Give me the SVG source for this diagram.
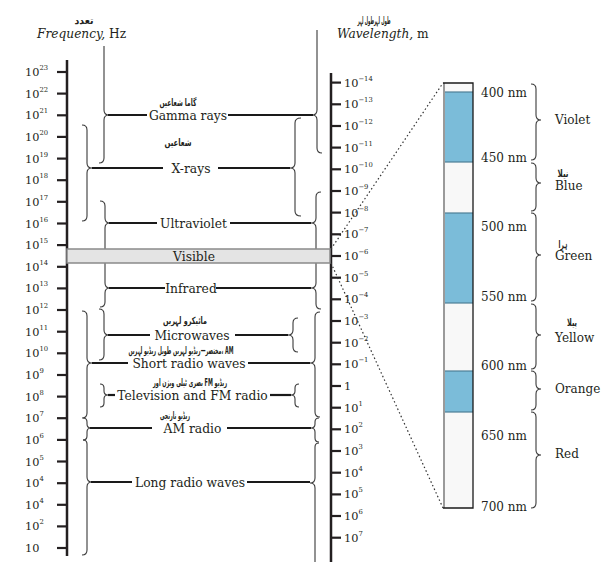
<svg xmlns="http://www.w3.org/2000/svg" width="610" height="570" viewBox="0 0 610 570">
<style>
.ax{stroke:#231f20;stroke-width:2.5;fill:none}
.tk{stroke:#231f20;stroke-width:2.2}
.ln{stroke:#1a1a1a;stroke-width:2.2}
.br{stroke:#3a3a3a;stroke-width:1.1;fill:none}
.lbl{font-family:"DejaVu Serif","Liberation Serif",serif;font-size:12.3px;fill:#231f20;text-anchor:middle}
.tl{font-family:"DejaVu Serif","Liberation Serif",serif;font-size:11.3px;fill:#231f20}
.sup{font-size:6.8px}
.nm{font-family:"DejaVu Serif","Liberation Serif",serif;font-size:12px;fill:#231f20}
.ur{font-family:"DejaVu Sans",sans-serif;font-size:10px;font-weight:bold;fill:#231f20;text-anchor:middle}
.hd{font-family:"DejaVu Serif","Liberation Serif",serif;font-size:12.2px;fill:#231f20}
.dot{stroke:#333;stroke-width:1.2;stroke-dasharray:1.5 2.5;fill:none}
.blue{fill:#7bbcd9}
.wht{fill:#f8f8f8}
</style>

<g id="headers">
<text class="ur" x="84" y="24" font-size="13" textLength="19" lengthAdjust="spacingAndGlyphs">تعدد</text>
<text class="hd" x="37" y="38"><tspan font-style="italic">Frequency,</tspan> Hz</text>
<text class="ur" x="374" y="24" font-size="12.5" textLength="33" lengthAdjust="spacingAndGlyphs">طول لہرطول لہر</text>
<text class="hd" x="337" y="38"><tspan font-style="italic">Wavelength,</tspan> m</text>
</g>

<g id="frequency-axis">
<line class="ax" x1="67" y1="60" x2="67" y2="556"/>
<g class="tk">
<line x1="57" y1="72" x2="67" y2="72"/><line x1="57" y1="93.6" x2="67" y2="93.6"/><line x1="57" y1="115.3" x2="67" y2="115.3"/><line x1="57" y1="136.9" x2="67" y2="136.9"/><line x1="57" y1="158.6" x2="67" y2="158.6"/><line x1="57" y1="180.2" x2="67" y2="180.2"/><line x1="57" y1="201.8" x2="67" y2="201.8"/><line x1="57" y1="223.5" x2="67" y2="223.5"/><line x1="57" y1="245.1" x2="67" y2="245.1"/><line x1="57" y1="266.8" x2="67" y2="266.8"/><line x1="57" y1="288.4" x2="67" y2="288.4"/><line x1="57" y1="310" x2="67" y2="310"/><line x1="57" y1="331.7" x2="67" y2="331.7"/><line x1="57" y1="353.3" x2="67" y2="353.3"/><line x1="57" y1="375" x2="67" y2="375"/><line x1="57" y1="396.6" x2="67" y2="396.6"/><line x1="57" y1="418.2" x2="67" y2="418.2"/><line x1="57" y1="439.9" x2="67" y2="439.9"/><line x1="57" y1="461.5" x2="67" y2="461.5"/><line x1="57" y1="483.2" x2="67" y2="483.2"/><line x1="57" y1="504.8" x2="67" y2="504.8"/><line x1="57" y1="526.4" x2="67" y2="526.4"/><line x1="57" y1="548" x2="67" y2="548"/>
</g>
<g class="tl">
<text x="25" y="76">10<tspan class="sup" dy="-6">23</tspan></text>
<text x="25" y="97.6">10<tspan class="sup" dy="-6">22</tspan></text>
<text x="25" y="119.3">10<tspan class="sup" dy="-6">21</tspan></text>
<text x="25" y="140.9">10<tspan class="sup" dy="-6">20</tspan></text>
<text x="25" y="162.6">10<tspan class="sup" dy="-6">19</tspan></text>
<text x="25" y="184.2">10<tspan class="sup" dy="-6">18</tspan></text>
<text x="25" y="205.8">10<tspan class="sup" dy="-6">17</tspan></text>
<text x="25" y="227.5">10<tspan class="sup" dy="-6">16</tspan></text>
<text x="25" y="249.1">10<tspan class="sup" dy="-6">15</tspan></text>
<text x="25" y="270.8">10<tspan class="sup" dy="-6">14</tspan></text>
<text x="25" y="292.4">10<tspan class="sup" dy="-6">13</tspan></text>
<text x="25" y="314">10<tspan class="sup" dy="-6">12</tspan></text>
<text x="25" y="335.7">10<tspan class="sup" dy="-6">11</tspan></text>
<text x="25" y="357.3">10<tspan class="sup" dy="-6">10</tspan></text>
<text x="25" y="379">10<tspan class="sup" dy="-6">9</tspan></text>
<text x="25" y="400.6">10<tspan class="sup" dy="-6">8</tspan></text>
<text x="25" y="422.2">10<tspan class="sup" dy="-6">7</tspan></text>
<text x="25" y="443.9">10<tspan class="sup" dy="-6">6</tspan></text>
<text x="25" y="465.5">10<tspan class="sup" dy="-6">5</tspan></text>
<text x="25" y="487.2">10<tspan class="sup" dy="-6">4</tspan></text>
<text x="25" y="508.8">10<tspan class="sup" dy="-6">4</tspan></text>
<text x="25" y="530.4">10<tspan class="sup" dy="-6">2</tspan></text>
<text x="25" y="552">10</text>
</g>
</g>

<g id="wavelength-axis">
<line class="ax" x1="331" y1="73" x2="331" y2="562"/>
<g class="tk">
<line x1="331" y1="82.6" x2="341" y2="82.6"/><line x1="331" y1="104.3" x2="341" y2="104.3"/><line x1="331" y1="126" x2="341" y2="126"/><line x1="331" y1="147.6" x2="341" y2="147.6"/><line x1="331" y1="169.3" x2="341" y2="169.3"/><line x1="331" y1="191" x2="341" y2="191"/><line x1="331" y1="212.6" x2="341" y2="212.6"/><line x1="331" y1="234.3" x2="341" y2="234.3"/><line x1="331" y1="256" x2="341" y2="256"/><line x1="331" y1="277.7" x2="341" y2="277.7"/><line x1="331" y1="299.3" x2="341" y2="299.3"/><line x1="331" y1="321" x2="341" y2="321"/><line x1="331" y1="342.7" x2="341" y2="342.7"/><line x1="331" y1="364.3" x2="341" y2="364.3"/><line x1="331" y1="386" x2="341" y2="386"/><line x1="331" y1="407.7" x2="341" y2="407.7"/><line x1="331" y1="429.3" x2="341" y2="429.3"/><line x1="331" y1="451" x2="341" y2="451"/><line x1="331" y1="472.7" x2="341" y2="472.7"/><line x1="331" y1="494.4" x2="341" y2="494.4"/><line x1="331" y1="516" x2="341" y2="516"/><line x1="331" y1="537.7" x2="341" y2="537.7"/>
</g>
<g class="tl">
<text x="344" y="86.6">10<tspan class="sup" dy="-6">−14</tspan></text>
<text x="344" y="108.3">10<tspan class="sup" dy="-6">−13</tspan></text>
<text x="344" y="130">10<tspan class="sup" dy="-6">−12</tspan></text>
<text x="344" y="151.6">10<tspan class="sup" dy="-6">−11</tspan></text>
<text x="344" y="173.3">10<tspan class="sup" dy="-6">−10</tspan></text>
<text x="344" y="195">10<tspan class="sup" dy="-6">−9</tspan></text>
<text x="344" y="216.6">10<tspan class="sup" dy="-6">−8</tspan></text>
<text x="344" y="238.3">10<tspan class="sup" dy="-6">−7</tspan></text>
<text x="344" y="260">10<tspan class="sup" dy="-6">−6</tspan></text>
<text x="344" y="281.7">10<tspan class="sup" dy="-6">−5</tspan></text>
<text x="344" y="303.3">10<tspan class="sup" dy="-6">−4</tspan></text>
<text x="344" y="325">10<tspan class="sup" dy="-6">−3</tspan></text>
<text x="344" y="346.7">10<tspan class="sup" dy="-6">−2</tspan></text>
<text x="344" y="368.3">10<tspan class="sup" dy="-6">−1</tspan></text>
<text x="344" y="390">1</text>
<text x="344" y="411.7">10<tspan class="sup" dy="-6">1</tspan></text>
<text x="344" y="433.3">10<tspan class="sup" dy="-6">2</tspan></text>
<text x="344" y="455">10<tspan class="sup" dy="-6">3</tspan></text>
<text x="344" y="476.7">10<tspan class="sup" dy="-6">4</tspan></text>
<text x="344" y="498.4">10<tspan class="sup" dy="-6">5</tspan></text>
<text x="344" y="520">10<tspan class="sup" dy="-6">6</tspan></text>
<text x="344" y="541.7">10<tspan class="sup" dy="-6">7</tspan></text>
</g>
</g>

<g id="connectors">
<g class="br">
<path d="M104 46 L104 110 Q104 115 109 115 Q104 115 104 120 L104 158 Q104 163 99 163"/>
<path d="M82 125 Q87 125 87 130 L87 163 Q87 168 92 168 Q87 168 87 173 L87 216 Q87 221 82 221"/>
<path d="M100 201 Q105 201 105 206 L105 218 Q105 223 110 223 Q105 223 105 228 L105 249"/>
<path d="M105 263 L105 283 Q105 288 110 288 Q105 288 105 293 L105 302 Q105 307 100 307"/>
<path d="M99 309 Q104 309 104 314 L104 330 Q104 335 109 335 Q104 335 104 340 L104 355 Q104 360 99 360"/>
<path d="M82 311 Q87 311 87 316 L87 358 Q87 363 92 363 Q87 363 87 368 L87 413 Q87 418 82 418"/>
<path d="M100 384 Q104 384 104 388 L104 391 Q104 395 108 395 Q104 395 104 399 L104 403 Q104 407 100 407"/>
<path d="M83 418 Q87 418 87 422 L87 424 Q87 428 91 428 Q87 428 87 432 L87 436 Q87 440 83 440"/>
<path d="M83 440 Q87 440 87 444 L87 477 Q87 482 92 482 Q87 482 87 487 L87 550 Q87 555 82 555"/>
<path d="M317 30 L317 110 Q317 115 312 115 Q317 115 317 120 L317 148 Q317 153 322 153"/>
<path d="M301 118 Q295 118 295 123 L295 163 Q295 168 290 168 Q295 168 295 173 L295 211 Q295 216 301 216"/>
<path d="M321 192 Q316 192 316 197 L316 218 Q316 223 311 223 Q316 223 316 228 L316 249"/>
<path d="M316 263 L316 283 Q316 288 311 288 Q316 288 316 293 L316 304 Q316 309 321 309"/>
<path d="M298 318 Q293 318 293 323 L293 330 Q293 335 288 335 Q293 335 293 340 L293 347 Q293 352 298 352"/>
<path d="M320 312 Q315 312 315 317 L315 358 Q315 363 310 363 Q315 363 315 368 L315 412 Q315 417 320 417"/>
<path d="M299 384 Q295 384 295 388 L295 391 Q295 395 291 395 Q295 395 295 399 L295 403 Q295 407 299 407"/>
<path d="M319 418 Q315 418 315 422 L315 424 Q315 428 311 428 Q315 428 315 432 L315 438 Q315 442 319 442"/>
<path d="M319 443 Q315 443 315 447 L315 478 Q315 483 310 483 Q315 483 315 488 L315 562"/>
<path d="M531 84 Q536 84 536 89 L536 115 Q536 120 541 120 Q536 120 536 125 L536 155 Q536 160 531 160"/>
<path d="M531 163 Q536 163 536 168 L536 178 Q536 183 541 183 Q536 183 536 188 L536 206 Q536 211 531 211"/>
<path d="M531 213 Q536 213 536 218 L536 250 Q536 255 541 255 Q536 255 536 260 L536 296 Q536 301 531 301"/>
<path d="M531 304 Q536 304 536 309 L536 330 Q536 335 541 335 Q536 335 536 340 L536 364 Q536 369 531 369"/>
<path d="M531 371 Q536 371 536 376 L536 384 Q536 389 541 389 Q536 389 536 394 L536 405 Q536 410 531 410"/>
<path d="M531 412 Q536 412 536 417 L536 450 Q536 455 541 455 Q536 455 536 460 L536 503 Q536 508 531 508"/>
</g>
<g class="ln">
<line x1="108" y1="115" x2="147" y2="115"/><line x1="228" y1="115" x2="313" y2="115"/>
<line x1="92" y1="168" x2="163" y2="168"/><line x1="218" y1="168" x2="290" y2="168"/>
<line x1="109" y1="223" x2="157" y2="223"/><line x1="230" y1="223" x2="311" y2="223"/>
<line x1="109" y1="288" x2="165" y2="288"/><line x1="216" y1="288" x2="311" y2="288"/>
<line x1="108" y1="335" x2="150" y2="335"/><line x1="235" y1="335" x2="288" y2="335"/>
<line x1="92" y1="363" x2="128" y2="363"/><line x1="248" y1="363" x2="310" y2="363"/>
<line x1="108" y1="395" x2="115" y2="395"/><line x1="270" y1="395" x2="291" y2="395"/>
<line x1="90" y1="428" x2="152" y2="428"/><line x1="227" y1="428" x2="311" y2="428"/>
<line x1="91" y1="482" x2="132" y2="482"/><line x1="247" y1="482" x2="310" y2="482"/>
</g>
<path class="dot" d="M331 249 L443 83"/>
<path class="dot" d="M331 263 L443 508"/>
</g>

<g id="visible-band">
<rect x="67" y="249" width="263" height="14" fill="#e4e4e4" stroke="#8a8a8a" stroke-width="1.5"/>
<text class="lbl" x="194" y="260.5">Visible</text>
</g>

<g id="gamma"><text class="ur" x="178" y="106" font-size="13" textLength="37" lengthAdjust="spacingAndGlyphs">گاما شعاعیں</text><text class="lbl" x="188" y="119.5">Gamma rays</text></g>
<g id="xrays"><text class="ur" x="178" y="146" font-size="13" textLength="27" lengthAdjust="spacingAndGlyphs">شعاعیں</text><text class="lbl" x="191" y="172.5">X-rays</text></g>
<g id="ultraviolet"><text class="lbl" x="193.5" y="227.5">Ultraviolet</text></g>
<g id="infrared"><text class="lbl" x="191" y="292.5">Infrared</text></g>
<g id="microwaves"><text class="ur" x="185" y="324" font-size="13" textLength="44" lengthAdjust="spacingAndGlyphs">مائیکرو لہریں</text><text class="lbl" x="192" y="339.5">Microwaves</text></g>
<g id="short-radio"><text class="ur" x="181" y="354" font-size="9.5" textLength="105" lengthAdjust="spacingAndGlyphs">مختصر—ریڈیو لہریں طویل ریڈیو لہریں، AM</text><text class="lbl" x="189" y="367.5">Short radio waves</text></g>
<g id="tv-fm"><text class="ur" x="190" y="386" font-size="10" textLength="74" lengthAdjust="spacingAndGlyphs">بصری ٹیلی ویژن اور FM ریڈیو</text><text class="lbl" x="192.5" y="399.5">Television and FM radio</text></g>
<g id="am-radio"><text class="ur" x="175" y="419" font-size="12" textLength="30" lengthAdjust="spacingAndGlyphs">ریڈیو نارنجی</text><text class="lbl" x="192.5" y="432.5">AM radio</text></g>
<g id="long-radio"><text class="lbl" x="190" y="486.5">Long radio waves</text></g>

<g id="spectrum-bar">
<rect class="wht" x="443" y="83" width="30" height="425"/>
<rect class="blue" x="443" y="92" width="30" height="70"/>
<rect class="blue" x="443" y="213" width="30" height="90"/>
<rect class="blue" x="443" y="371" width="30" height="41"/>
<g stroke="#4d7f96" stroke-width="1.2">
<line x1="443" y1="92" x2="473" y2="92"/><line x1="443" y1="162" x2="473" y2="162"/><line x1="443" y1="213" x2="473" y2="213"/><line x1="443" y1="303" x2="473" y2="303"/><line x1="443" y1="371" x2="473" y2="371"/><line x1="443" y1="412" x2="473" y2="412"/>
</g>
<line x1="444" y1="83" x2="444" y2="508" stroke="#9a9a9a" stroke-width="2"/>
<path d="M443 83 L473 83 L473 508 L443 508" fill="none" stroke="#1a1a1a" stroke-width="1.3"/>
</g>

<g id="nm-labels" class="nm">
<text x="481" y="96.5">400 nm</text>
<text x="481" y="161.5">450 nm</text>
<text x="481" y="231">500 nm</text>
<text x="481" y="301">550 nm</text>
<text x="481" y="370">600 nm</text>
<text x="481" y="440">650 nm</text>
<text x="481" y="511">700 nm</text>
</g>

<g id="colour-labels" class="nm">
<text x="555" y="123.5">Violet</text>
<text class="ur" x="563" y="177" font-size="11" textLength="11" lengthAdjust="spacingAndGlyphs">نیلا</text>
<text x="555" y="189.5">Blue</text>
<text class="ur" x="563" y="248" font-size="11" textLength="9" lengthAdjust="spacingAndGlyphs">ہرا</text>
<text x="555" y="259.5">Green</text>
<text class="ur" x="572" y="326" font-size="11" textLength="10" lengthAdjust="spacingAndGlyphs">پیلا</text>
<text x="555" y="341.5">Yellow</text>
<text x="555" y="392.5">Orange</text>
<text x="555" y="458">Red</text>
</g>
</svg>
